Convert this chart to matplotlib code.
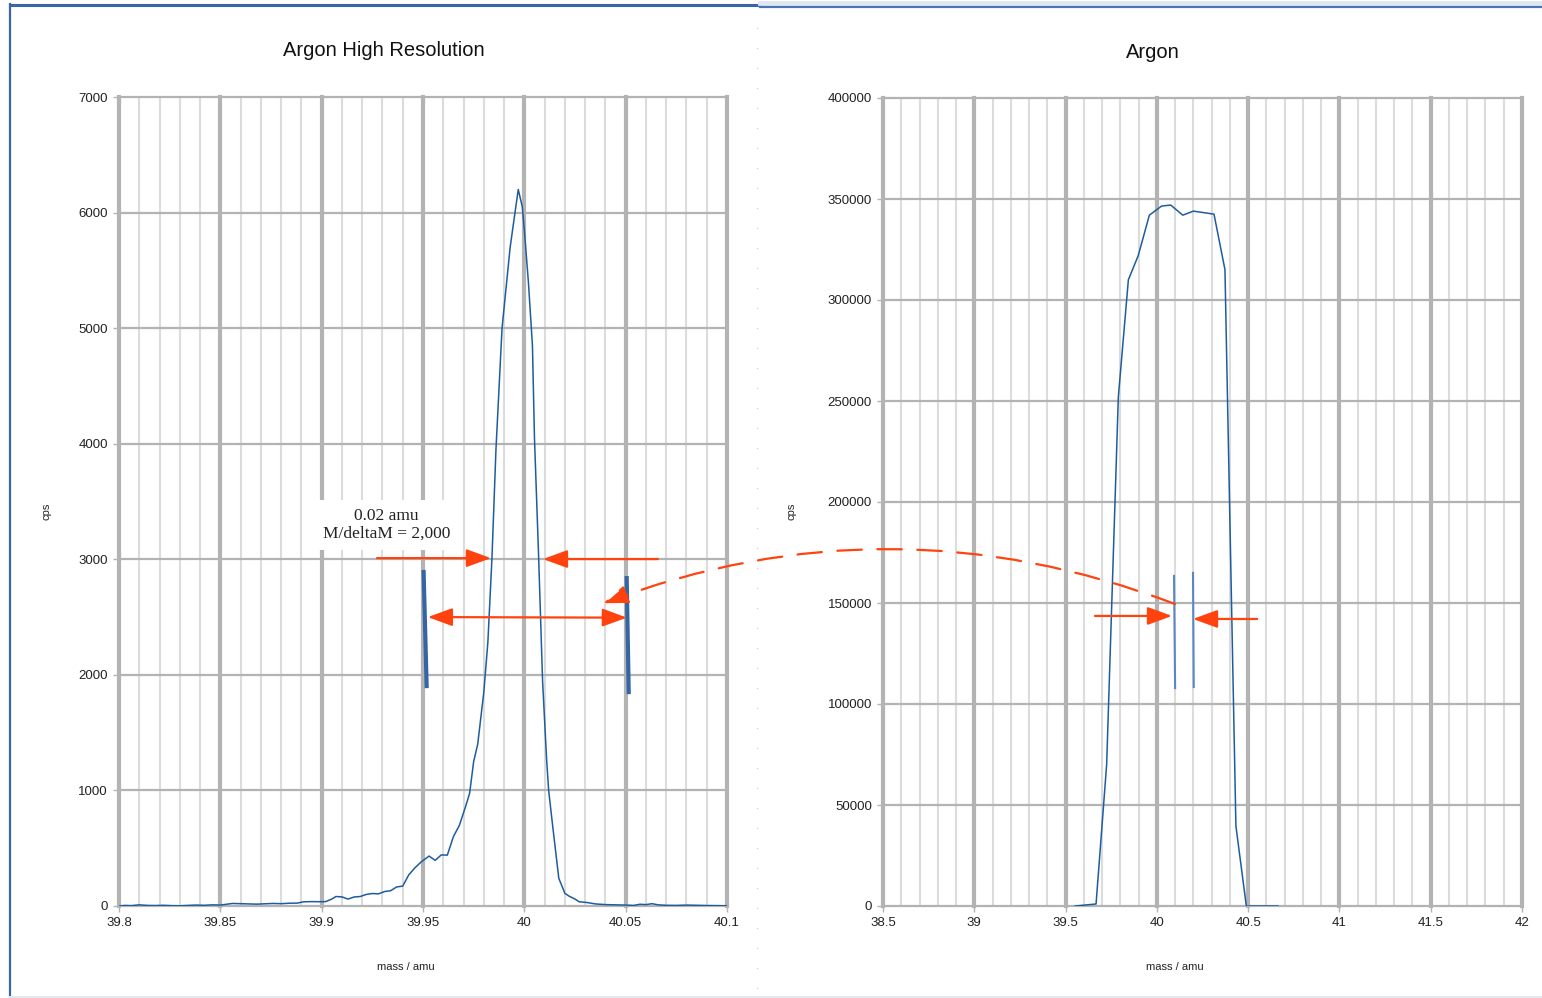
import numpy as np
import matplotlib
matplotlib.use("Agg")
import matplotlib.pyplot as plt
from matplotlib.patches import ArrowStyle, ConnectionPatch
from matplotlib.lines import Line2D

plt.rcParams["font.family"] = ["Liberation Sans", "DejaVu Sans"]

# -----------------------------
# DATA
# -----------------------------

# high resolution scan
hr_mass = [39.800, 39.803, 39.806, 39.810, 39.814, 39.818, 39.822, 39.826, 39.830, 39.834,
           39.838, 39.842, 39.846, 39.850, 39.853, 39.856, 39.860, 39.864, 39.868, 39.872,
           39.876, 39.880, 39.884, 39.888, 39.891, 39.895, 39.899, 39.902, 39.905, 39.907,
           39.910, 39.913, 39.916, 39.919, 39.922, 39.925, 39.928, 39.931, 39.934, 39.937,
           39.940, 39.943, 39.946, 39.949, 39.953, 39.956, 39.959, 39.962, 39.965, 39.968,
           39.971, 39.973, 39.975, 39.977, 39.980, 39.982, 39.984, 39.986, 39.989, 39.993,
           39.997, 39.999, 40.000, 40.002, 40.004, 40.005, 40.007, 40.009, 40.011, 40.012,
           40.014, 40.017, 40.020, 40.022, 40.025, 40.027, 40.031, 40.035, 40.040, 40.045,
           40.050, 40.054, 40.057, 40.060, 40.063, 40.066, 40.070, 40.075, 40.080, 40.085,
           40.090, 40.095, 40.100]
hr_cps = [0, 5, 3, 10, 5, 4, 6, 3, 2, 5,
          8, 6, 10, 8, 15, 22, 20, 18, 16, 19,
          22, 20, 24, 25, 36, 38, 37, 38, 60, 82,
          79, 60, 78, 82, 100, 108, 105, 125, 132, 165,
          172, 270, 330, 380, 432, 395, 442, 440, 600, 700,
          860, 975, 1250, 1400, 1850, 2280, 3000, 3950, 5000, 5700,
          6200, 6050, 5850, 5400, 4850, 4050, 3050, 1950, 1263, 1000,
          690, 240, 110, 86, 60, 37, 30, 18, 12, 10,
          8, 5, 15, 12, 20, 10, 6, 5, 8, 6,
          4, 3, 2]

# low resolution scan
lr_mass = [39.552, 39.667, 39.725, 39.789, 39.844, 39.898, 39.959, 40.026, 40.076,
           40.142, 40.200, 40.313, 40.373, 40.433, 40.490, 40.664]
lr_cps = [0, 1000, 70000, 252000, 310000, 322000, 342000, 346500, 347000,
          342000, 344000, 342500, 315000, 39600, 0, 0]

hr_xticks = [39.8, 39.85, 39.9, 39.95, 40, 40.05, 40.1]
hr_xlabels = ["39.8", "39.85", "39.9", "39.95", "40", "40.05", "40.1"]
lr_xticks = [38.5, 39, 39.5, 40, 40.5, 41, 41.5, 42]
lr_xlabels = ["38.5", "39", "39.5", "40", "40.5", "41", "41.5", "42"]

# width markers
hr_edges = [39.951, 40.051]
lr_edges = [40.094, 40.198]

# -----------------------------
# FIGURE
# -----------------------------

W, H = 1542, 998
fig = plt.figure(figsize=(15.42, 9.98), dpi=100, facecolor="white")

blue = "#1f5c9e"
red = "#ff420e"
major_c = "#b3b3b3"
minor_c = "#dcdcdc"


def fx(px):
    return px / W


def fy(py):
    return 1 - py / H


ax1 = fig.add_axes([fx(119), fy(906), fx(727 - 119), (906 - 97) / H])
ax2 = fig.add_axes([fx(883), fy(906), fx(1522 - 883), (906 - 98) / H])


def style_axes(ax, xmin, xmax, major, minor, ymax, ystep):
    ax.set_xlim(xmin, xmax)
    ax.set_ylim(0, ymax)
    # minor vertical lines
    for v in np.arange(xmin, xmax + minor / 2, minor):
        ax.axvline(v, color=minor_c, lw=1.5, zorder=0)
    for v in np.arange(xmin, xmax + major / 2, major):
        ax.axvline(v, color=major_c, lw=3, zorder=0.5, clip_on=False)
    for v in np.arange(0, ymax + ystep / 2, ystep):
        ax.axhline(v, color=major_c, lw=1.6, zorder=0.6, clip_on=False)
    ax.set_yticks(np.arange(0, ymax + ystep / 2, ystep))
    ax.set_yticklabels([str(int(v)) for v in np.arange(0, ymax + ystep / 2, ystep)])
    for s in ax.spines.values():
        s.set_visible(False)
    ax.tick_params(axis="both", length=4, width=1, color=major_c, labelsize=9.5,
                   labelcolor="#222222", pad=4)
    ax.set_facecolor("white")


style_axes(ax1, 39.8, 40.1, 0.05, 0.01, 7000, 1000)
style_axes(ax2, 38.5, 42, 0.5, 0.1, 400000, 50000)
ax1.set_xticks(hr_xticks)
ax1.set_xticklabels(hr_xlabels)
ax2.set_xticks(lr_xticks)
ax2.set_xticklabels(lr_xlabels)

ax1.plot(hr_mass, hr_cps, color=blue, lw=1.1, zorder=3)
ax2.plot(lr_mass, lr_cps, color=blue, lw=1.1, zorder=3)

# titles and axis labels
fig.text(fx(384), fy(50), "Argon High Resolution", ha="center", va="center", fontsize=14.5, color="#111111")
fig.text(fx(1153), fy(52), "Argon", ha="center", va="center", fontsize=14.5, color="#111111")
fig.text(fx(46), fy(511), "cps", ha="center", va="center", rotation=90, fontsize=8, color="#222222")
fig.text(fx(792), fy(511), "cps", ha="center", va="center", rotation=90, fontsize=8, color="#222222")
fig.text(fx(406), fy(967), "mass / amu", ha="center", va="center", fontsize=8, color="#222222")
fig.text(fx(1175), fy(967), "mass / amu", ha="center", va="center", fontsize=8, color="#222222")

# -----------------------------
# ANNOTATIONS
# -----------------------------

head = ArrowStyle("-|>", head_length=15, head_width=5.5)
dhead = ArrowStyle("<|-|>", head_length=15, head_width=5.5)


def arrow(ax, x0, y0, x1, y1, style=head):
    ax.annotate("", xy=(x1, y1), xytext=(x0, y0),
                arrowprops=dict(arrowstyle=style, color=red, lw=1.6,
                                shrinkA=0, shrinkB=0, mutation_scale=1),
                zorder=5)


ax1.text(39.932, 3296, "0.02 amu\nM/deltaM = 2,000", ha="center", va="center",
         family=["Liberation Serif", "DejaVu Serif"], fontsize=12.5, linespacing=1.15,
         color="#222222", zorder=4,
         bbox=dict(boxstyle="square,pad=0.45", facecolor="white", edgecolor="none"))

arrow(ax1, 39.9273, 3010, 39.9835, 3010)
arrow(ax1, 40.0659, 3002, 40.0092, 3002)
ax1.plot([hr_edges[0] - 0.0007, hr_edges[0] + 0.0008], [2890, 1903], color="#3465a4", lw=3, zorder=4)
ax1.plot([hr_edges[1] - 0.0005, hr_edges[1] + 0.0005], [2837, 1851], color="#3465a4", lw=3, zorder=4)
arrow(ax1, 39.9524, 2500, 40.0506, 2495, dhead)

arrow(ax2, 39.661, 143600, 40.083, 143600)
arrow(ax2, 40.549, 142100, 40.198, 142100)
ax2.plot([lr_edges[0], lr_edges[0] + 0.006], [163400, 107900], color="#5a86c6", lw=1.5, zorder=4)
ax2.plot([lr_edges[1], lr_edges[1] + 0.004], [164900, 108400], color="#5a86c6", lw=1.5, zorder=4)

con = ConnectionPatch(xyA=(40.099, 149500), coordsA=ax2.transData,
                      xyB=(40.039, 2620), coordsB=ax1.transData,
                      arrowstyle=head, mutation_scale=1, color=red, lw=1.6,
                      linestyle=(0, (11, 7)), connectionstyle="arc3,rad=0.19",
                      shrinkA=0, shrinkB=0, zorder=6)
fig.add_artist(con)

# -----------------------------
# SCREENSHOT FRAME
# -----------------------------

fig.add_artist(Line2D([fx(10), fx(10)], [fy(4), fy(998)], color="#3a66a8", lw=1.6))
fig.add_artist(Line2D([fx(10), fx(760)], [fy(5), fy(5)], color="#3a66a8", lw=2.2))
fig.add_artist(Line2D([fx(760), fx(1542)], [fy(2.5), fy(2.5)], color="#dfe7f2", lw=3.5))
fig.add_artist(Line2D([fx(760), fx(1542)], [fy(7), fy(7)], color="#4a74b4", lw=1.6))
fig.add_artist(Line2D([fx(10), fx(1542)], [fy(996.5), fy(996.5)], color="#e3e8ef", lw=1.5))
dots = np.arange(28, 998, 20)
fig.add_artist(Line2D([fx(757)] * len(dots), fy(dots), color="#d0d0d0", lw=0,
                      marker="s", markersize=0.9, markeredgewidth=0))

plt.savefig("out.png", dpi=100, facecolor="white")
